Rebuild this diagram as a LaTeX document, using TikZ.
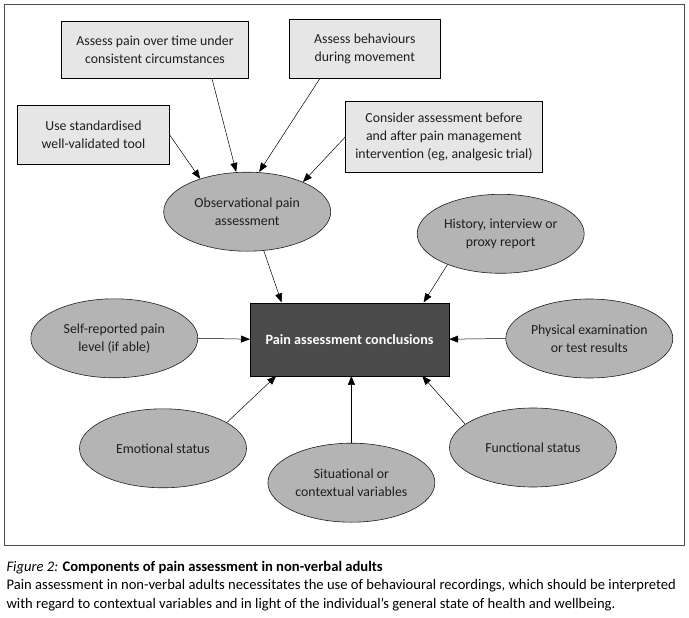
\documentclass[tikz,border=0pt]{standalone}
\usepackage{fontspec}
\setmainfont{Carlito}
\usetikzlibrary{shapes.geometric,arrows.meta}
\definecolor{boxgray}{HTML}{E6E6E6}
\definecolor{ellgray}{HTML}{B4B4B4}
\definecolor{coregray}{HTML}{4B4B4B}
\definecolor{inkgray}{HTML}{1E1E1E}

\begin{document}
\begin{tikzpicture}[x=1pt, y=-1pt,
	every node/.style={font=\fontsize{13.8}{18}\selectfont, align=center, text=inkgray},
	infobox/.style={rectangle, draw, fill=boxgray, inner sep=0pt, line width=0.7pt},
	factor/.style={ellipse, draw=inkgray, fill=ellgray, minimum width=167pt, minimum height=79pt, inner sep=0pt, line width=0.6pt},
	feed/.style={-{Triangle[length=9pt,width=7pt]}, line width=0.5pt},
	capline/.style={anchor=base west, font=\fontsize{14.6}{18}\selectfont, text=black}]

	\useasboundingbox (0,0) rectangle (689,618);
	\draw[line width=0.6pt, black!70] (4.4,4.4) rectangle (684.7,545.5);

	\node[infobox, minimum width=187pt, minimum height=56.6pt] (overtime) at (155,50) {Assess pain over time under\\consistent circumstances};
	\node[infobox, minimum width=151.6pt, minimum height=59pt] (movement) at (364.8,48.8) {Assess behaviours\\during movement};
	\node[infobox, minimum width=151.7pt, minimum height=58.6pt] (tool) at (93.5,135) {Use standardised\\well-validated tool};
	\node[infobox, minimum width=196.6pt, minimum height=70.6pt] (trial) at (443.9,137) {Consider assessment before\\and after pain management\\intervention (eg, analgesic trial)};

	\node[factor] (observ) at (247.2,211.7) {Observational pain\\assessment};
	\node[factor] (history) at (500.7,233.8) {History, interview or\\proxy report};
	\node[factor] (selfrep) at (114.3,338.3) {Self-reported pain\\level (if able)};
	\node[factor] (physical) at (589.3,338.5) {Physical examination\\or test results};
	\node[factor] (emotion) at (163,448.3) {Emotional status};
	\node[factor] (situation) at (351.4,482.7) {Situational or\\contextual variables};
	\node[factor] (function) at (533,447.5) {Functional status};

	\node[rectangle, draw=black, fill=coregray, minimum width=198.8pt, minimum height=73pt, text=white, font=\fontsize{14.2}{17}\selectfont\bfseries] (core) at (349.6,339.2) {Pain assessment conclusions};

	\draw[feed] ([xshift=57pt]overtime.south) -- ([xshift=-11pt]observ.north);
	\draw[feed] ([xshift=-45pt]movement.south) -- ([xshift=12pt]observ.north);
	\draw[feed] (tool.east) -- (observ.145);
	\draw[feed] (trial.west) -- (observ.28);
	\draw[feed] (observ.-67) -- ([xshift=-68pt]core.north);
	\draw[feed] (history.210) -- ([xshift=74pt]core.north);
	\draw[feed] (selfrep.east) -- (core.west);
	\draw[feed] (physical.west) -- (core.east);
	\draw[feed] (emotion.22) -- ([xshift=-73.4pt]core.south);
	\draw[feed] (situation.north) -- (situation.north |- core.south);
	\draw[feed] (function.161) -- ([xshift=72.6pt]core.south);

	\node[capline] (cap1) at (3,571.5) {\textit{Figure 2:} \textbf{Components of pain assessment in non-verbal adults}};
	\node[capline] (cap2) at (3,589.5) {Pain assessment in non-verbal adults necessitates the use of behavioural recordings, which should be interpreted};
	\node[capline] (cap3) at (3,608) {with regard to contextual variables and in light of the individual’s general state of health and wellbeing.};
\end{tikzpicture}
\end{document}
